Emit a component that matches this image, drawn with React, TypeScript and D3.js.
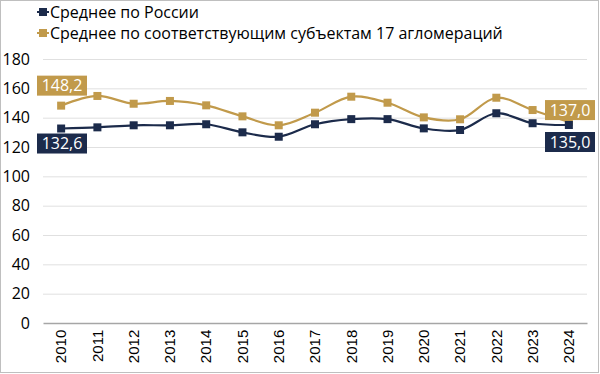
import { useEffect, useRef } from "react";
import * as d3 from "d3";

const years = ["2010", "2011", "2012", "2013", "2014", "2015", "2016", "2017", "2018", "2019", "2020", "2021", "2022", "2023", "2024"];
const russia = [132.6, 133.4, 134.8, 134.8, 135.5, 130.0, 127.0, 135.5, 139.0, 139.0, 132.7, 131.6, 143.0, 136.2, 135.0];
const agglo = [148.2, 154.8, 149.5, 151.4, 148.4, 140.9, 134.8, 143.4, 154.3, 150.2, 140.2, 138.9, 153.6, 145.2, 137.0];
const yTicks = [0, 20, 40, 60, 80, 100, 120, 140, 160, 180];
const seriesNames = ["Среднее по России", "Среднее по соответствующим субъектам 17 агломераций"];

const NAVY = "#1c2b4b";
const GOLD = "#c19a4b";

export default function App() {
  const svgRef = useRef<SVGSVGElement>(null);

  useEffect(() => {
    const width = 600;
    const height = 374;
    const marginLeft = 43;
    const marginRight = 13;
    const marginTop = 59;
    const bottom = 323;

    const svg = d3.select(svgRef.current);
    svg.selectAll("*").remove();

    svg.append("rect")
      .attr("x", 0.5).attr("y", 0.5)
      .attr("width", width - 2).attr("height", height - 2)
      .attr("fill", "white")
      .attr("stroke", "#bfbfbf");

    const x = d3.scaleBand()
      .domain(years)
      .range([marginLeft, width - marginRight]);

    const y = d3.scaleLinear()
      .domain([0, 180])
      .range([bottom, marginTop]);

    const cx = (i: number) => x(years[i])! + x.bandwidth() / 2;

    // grid
    svg.append("g")
      .selectAll("line")
      .data(yTicks.filter(d => d > 0))
      .enter()
      .append("line")
      .attr("x1", marginLeft)
      .attr("x2", width - marginRight)
      .attr("y1", d => y(d) + 0.5)
      .attr("y2", d => y(d) + 0.5)
      .attr("stroke", "#e0e0e0")
      .attr("stroke-width", 1);

    // y axis labels
    svg.append("g")
      .attr("transform", `translate(${marginLeft},0)`)
      .call(d3.axisLeft(y).tickValues(yTicks).tickSize(0).tickPadding(13))
      .call(g => g.select(".domain").remove())
      .call(g => g.selectAll("text")
        .attr("font-family", "'Open Sans', sans-serif")
        .attr("font-size", 16)
        .attr("fill", "#000"));

    // x axis
    svg.append("g")
      .attr("transform", `translate(0,${bottom})`)
      .call(d3.axisBottom(x).tickSize(0).tickPadding(6))
      .call(g => g.select(".domain").attr("stroke", "#a6a6a6").attr("stroke-width", 1.3))
      .call(g => g.selectAll("text")
        .attr("font-family", "'Liberation Sans', Arial, sans-serif")
        .attr("font-size", 15)
        .attr("fill", "#000")
        .attr("transform", "rotate(-90)")
        .attr("text-anchor", "end")
        .attr("dx", "-0.45em")
        .attr("dy", "0.35em")
        .attr("x", 0)
        .attr("y", 0));

    const line = d3.line<number>()
      .x((_, i) => cx(i))
      .y(d => y(d))
      .curve(d3.curveCatmullRom.alpha(0.5));

    const drawSeries = (data: number[], color: string) => {
      svg.append("path")
        .datum(data)
        .attr("d", line)
        .attr("fill", "none")
        .attr("stroke", color)
        .attr("stroke-width", 2.2);
      svg.append("g")
        .selectAll("rect")
        .data(data)
        .enter()
        .append("rect")
        .attr("x", (_, i) => cx(i) - 4)
        .attr("y", d => y(d) - 4)
        .attr("width", 8)
        .attr("height", 8)
        .attr("fill", color);
    };

    drawSeries(agglo, GOLD);
    drawSeries(russia, NAVY);

    // value labels
    const fmt = (v: number) => v.toFixed(1).replace(".", ",");
    const labels = [
      { v: agglo[0], i: 0, color: GOLD, dy: -20, side: "left" },
      { v: russia[0], i: 0, color: NAVY, dy: 15, side: "left" },
      { v: agglo[14], i: 14, color: GOLD, dy: -12, side: "right" },
      { v: russia[14], i: 14, color: NAVY, dy: 17, side: "right" },
    ];
    labels.forEach(l => {
      const bx = l.side === "left" ? 37 : 545;
      const cy = y(l.v) + l.dy;
      const g = svg.append("g");
      g.append("rect")
        .attr("x", bx)
        .attr("y", cy - 10)
        .attr("width", 50)
        .attr("height", 20)
        .attr("fill", l.color);
      g.append("text")
        .attr("x", bx + 25)
        .attr("y", cy)
        .attr("dy", "0.36em")
        .attr("text-anchor", "middle")
        .attr("font-family", "'Open Sans', sans-serif")
        .attr("font-size", 16)
        .attr("fill", "white")
        .text(fmt(l.v));
    });

    // legend
    const legend = svg.append("g");
    [NAVY, GOLD].forEach((c, i) => {
      const ly = 12 + i * 21;
      legend.append("line")
        .attr("x1", 37).attr("x2", 49)
        .attr("y1", ly).attr("y2", ly)
        .attr("stroke", c).attr("stroke-width", 2);
      legend.append("rect")
        .attr("x", 39).attr("y", ly - 4)
        .attr("width", 8).attr("height", 8)
        .attr("fill", c);
      legend.append("text")
        .attr("x", 50)
        .attr("y", ly)
        .attr("dy", "0.35em")
        .attr("font-family", "'Open Sans', sans-serif")
        .attr("font-size", 16)
        .attr("fill", "#000")
        .text(seriesNames[i]);
    });
  }, []);

  return (
    <svg ref={svgRef} width={600} height={374} style={{ position: "absolute", left: 0, top: 0 }}></svg>
  );
}
